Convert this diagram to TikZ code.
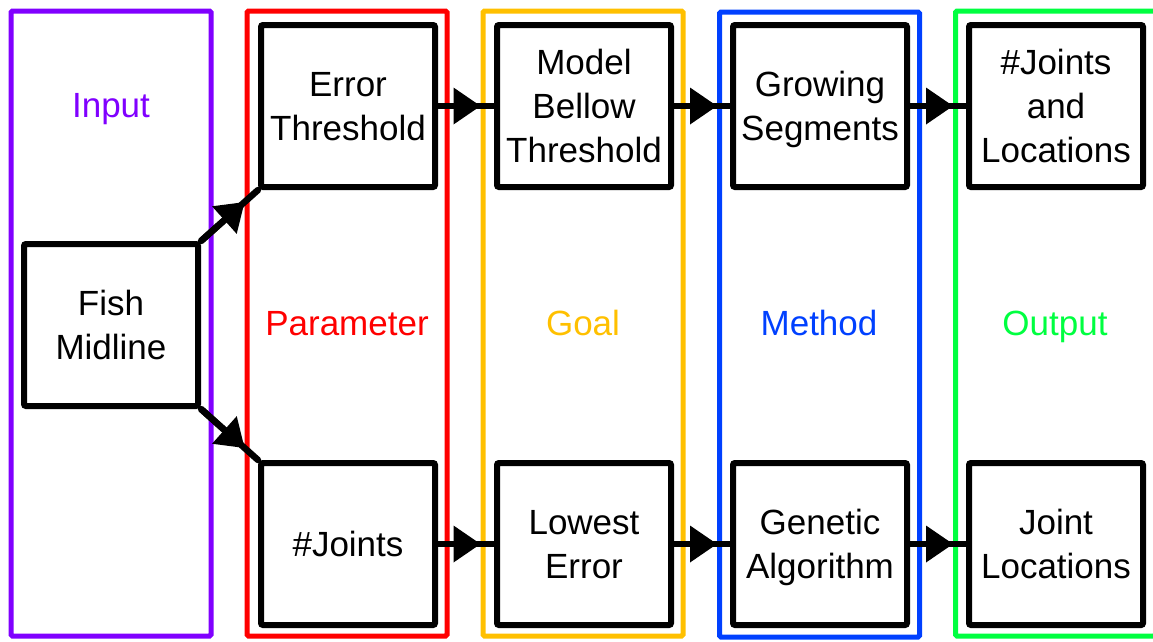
\documentclass[tikz,border=0pt]{standalone}
\usepackage{fontspec}
\setmainfont{Liberation Sans}
\usetikzlibrary{arrows.meta}
\definecolor{cpurple}{RGB}{128,0,255}
\definecolor{cred}{RGB}{255,0,0}
\definecolor{corange}{RGB}{255,192,0}
\definecolor{cblue}{RGB}{0,64,255}
\definecolor{cgreen}{RGB}{0,255,64}
\tikzset{
  lane/.style={draw=#1, text=#1, line width=5pt, minimum width=200pt, minimum height=625pt, inner sep=0pt, rounded corners=1.5pt},
  lanelabel/.style={text=#1, anchor=base, inner sep=0pt, font=\fontsize{35}{44}\selectfont},
  box/.style={draw=black, fill=white, line width=6pt, minimum width=174pt, minimum height=162pt, inner sep=0pt, text depth=0pt, align=center, rounded corners=2pt, font=\fontsize{35}{44}\selectfont},
  conn/.style={line width=6.5pt, line cap=round},
  tip/.style={line width=6.5pt, -{Triangle[length=27pt 0 0,width=37pt 0 0,line width=0pt 0 0]}}
}
\begin{document}
\begin{tikzpicture}[x=1pt,y=-1pt]
\useasboundingbox (0,0) rectangle (1153,641);
% lanes
\node[lane=cpurple] (lin) at (111,323.5) {};
\node[lane=cred] (lpar) at (347,323.5) {};
\node[lane=corange] (lgoal) at (583,323.5) {};
\node[lane=cblue] (lmeth) at (819.5,324.5) {};
\node[lane=cgreen] (lout) at (1055.5,323.5) {};
% lane labels
\node[lanelabel=cpurple] (tin) at (111,117) {Input};
\node[lanelabel=cred] (tpar) at (347,335) {Parameter};
\node[lanelabel=corange] (tgoal) at (583,335) {Goal};
\node[lanelabel=cblue] (tmeth) at (819,335) {Method};
\node[lanelabel=cgreen] (tout) at (1055,335) {Output};
% boxes
\node[box] (fish) at (111,325) {Fish\\Midline};
\node[box] (et) at (348,106) {Error\\Threshold};
\node[box] (mb) at (584,106) {Model\\Bellow\\Threshold};
\node[box] (gs) at (820,106) {Growing\\Segments};
\node[box] (jl) at (1056,106) {\#Joints\\and\\Locations};
\node[box] (nj) at (348,544) {\#Joints};
\node[box] (le) at (584,544) {Lowest\\Error};
\node[box] (ga) at (820,544) {Genetic\\Algorithm};
\node[box] (jloc) at (1056,544) {Joint\\Locations};
% diagonal arrows
\coordinate (tipa) at (intersection of fish.north east--et.south west and lpar.north west--lpar.south west);
\coordinate (tipb) at (intersection of fish.south east--nj.north west and lpar.north west--lpar.south west);
\draw[conn] (fish.north east) -- (et.south west);
\draw[tip] (fish.north east) -- (tipa);
\draw[conn] (fish.south east) -- (nj.north west);
\draw[tip] (fish.south east) -- (tipb);
% horizontal arrows
\foreach \a/\b/\l in {et/mb/lgoal, mb/gs/lmeth, gs/jl/lout, nj/le/lgoal, le/ga/lmeth, ga/jloc/lout}{
  \draw[conn] (\a.east) -- (\b.west);
  \draw[tip] (\a.east) -- (\a.east -| \l.west);
}
\end{tikzpicture}
\end{document}
